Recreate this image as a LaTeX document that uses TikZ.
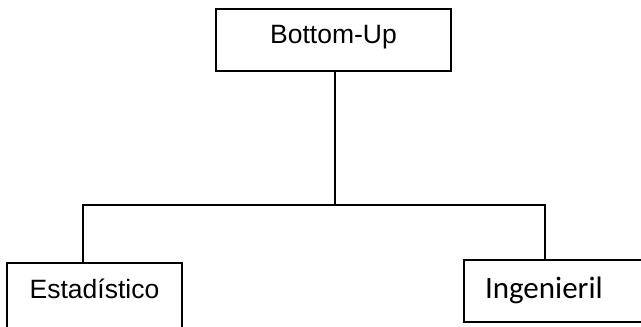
\documentclass[tikz,border=0pt]{standalone}
\usepackage{fontspec}
\setmainfont{Liberation Sans}
\newfontfamily\calfont{Carlito}
\begin{document}
\begin{tikzpicture}[x=1pt,y=-1pt,
  box/.style={draw=black,line width=2pt,rectangle,inner sep=0pt,font=\fontsize{26.5}{31}\selectfont},
  conn/.style={draw=black,line width=2pt}]
\clip (0,0) rectangle (641,327);
\fill[white] (0,0) rectangle (641,327);
\node[box,minimum width=235pt,minimum height=62pt,text height=19pt,text depth=13pt] (top) at (333.5,40) {Bottom-Up};
\node[box,minimum width=175pt,minimum height=72pt,text height=19pt,text depth=21pt] (left) at (94.5,299) {Estadístico};
\node[box,anchor=west,inner xsep=21pt,text width=160pt,align=left,minimum height=62pt,text height=20pt,text depth=6pt,font=\calfont\fontsize{31}{37}\selectfont] (right) at (463,291) {Ingenieril};
\coordinate (j) at (335,205);
\coordinate (lj) at (83,205);
\coordinate (rj) at (545,205);
\draw[conn] (top.south -| j) -- (j);
\draw[conn] (left.north -| lj) |- (rj) -- (right.north -| rj);
\end{tikzpicture}
\end{document}
